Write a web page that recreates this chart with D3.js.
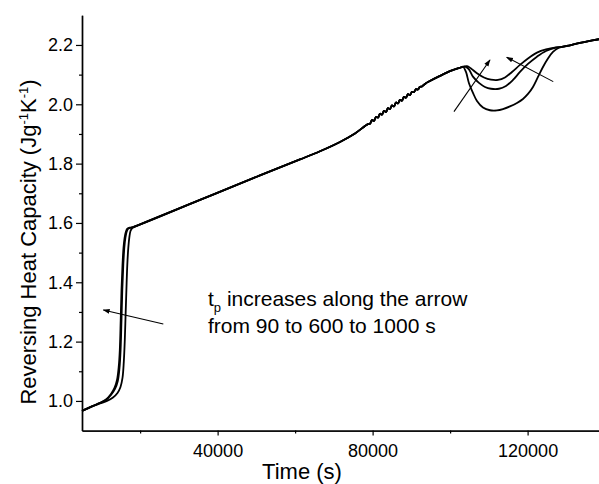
<!DOCTYPE html>
<html>
<head>
<meta charset="utf-8">
<script src="https://cdn.jsdelivr.net/npm/d3@7"></script>
<style>
  body { margin: 0; background: #fff; }
  svg { display: block; font-family: "Liberation Sans", Arial, Helvetica, sans-serif; }
</style>
</head>
<body>
<svg id="chart" width="599" height="484"></svg>
<script>
// ---- Data: reversing heat capacity (J g^-1 K^-1) vs time (s) ----

// Glass-transition step, one run per period tp
const stepTime90   = [5000, 7581, 9645, 11452, 13000, 14161, 14935, 15451, 15787, 16045, 16251, 16458, 16690, 16948, 17232, 17516, 17851, 18290];
const stepCp90     = [0.9663, 0.9815, 0.9916, 1.0000, 1.0118, 1.0270, 1.0472, 1.0775, 1.1315, 1.2056, 1.2899, 1.3742, 1.4585, 1.5158, 1.5528, 1.5731, 1.5812, 1.5852];
const stepTime600  = [5000, 7581, 9645, 11193, 12484, 13516, 14239, 14677, 14961, 15193, 15400, 15658, 15916, 16200, 16509, 16871, 17387, 18161];
const stepCp600    = [0.9663, 0.9815, 0.9933, 1.0034, 1.0202, 1.0405, 1.0674, 1.1112, 1.1719, 1.2731, 1.3742, 1.4585, 1.5158, 1.5495, 1.5697, 1.5798, 1.5835, 1.5859];
const stepTime1000 = [5000, 7581, 9645, 11193, 12484, 13387, 14032, 14471, 14755, 14987, 15193, 15451, 15709, 15993, 16303, 16690, 17258, 18161];
const stepCp1000   = [0.9663, 0.9815, 0.9933, 1.0051, 1.0236, 1.0438, 1.0708, 1.1146, 1.1719, 1.2731, 1.3742, 1.4585, 1.5158, 1.5495, 1.5697, 1.5805, 1.5839, 1.5859];

// Common segment, including the oscillating stretch near 79000-92000 s
const midTime = [35451, 50935, 61257, 66418, 71579, 75450,
  78805, 79321, 79837, 80353, 80869, 81386, 81902, 82418, 82934, 83450,
  83966, 84482, 84998, 85514, 86030, 86547, 87063, 87579, 88095, 88611,
  89127, 89643, 90159, 90675, 91191, 91708, 92224, 92740, 93256, 93772, 94288,
  97385, 100482, 102547];
const midCp = [1.6776, 1.7602, 1.8141, 1.8417, 1.8731, 1.9017,
  1.933, 1.934, 1.947, 1.944, 1.957, 1.955, 1.968, 1.965, 1.978, 1.974,
  1.987, 1.984, 1.996, 1.993, 2.006, 2.003, 2.015, 2.012, 2.025, 2.022,
  2.034, 2.031, 2.042, 2.041, 2.051, 2.050, 2.059, 2.060, 2.066, 2.071, 2.075,
  2.0956, 2.1141, 2.1232];

// Dip near 110000 s, one run per period tp
const dipTime90   = [103321, 104095, 104869, 105901, 106934, 108482, 110288, 112095, 113643, 115449, 117256, 118804, 120095, 121385, 122675, 123965, 125255, 126546, 127832];
const dipCp90     = [2.1266, 2.1090, 2.0710, 2.0383, 2.0113, 1.9894, 1.9799, 1.9793, 1.9837, 1.9928, 2.0046, 2.0180, 2.0349, 2.0585, 2.0922, 2.1259, 2.1546, 2.1765, 2.1890];
const dipTime600  = [103579, 104095, 104869, 105901, 107450, 108998, 110547, 112611, 114417, 116224, 118030, 120095, 122417, 124740, 127320];
const dipCp600    = [2.1273, 2.1259, 2.1175, 2.0932, 2.0720, 2.0585, 2.0524, 2.0524, 2.0619, 2.0821, 2.1090, 2.1360, 2.1606, 2.1798, 2.1910];
const dipTime1000 = [103579, 104353, 105385, 106934, 108740, 110547, 112353, 114159, 115966, 118030, 120095, 122417, 124740, 127320];
const dipCp1000   = [2.1273, 2.1286, 2.1209, 2.1047, 2.0905, 2.0831, 2.0821, 2.0905, 2.1090, 2.1327, 2.1546, 2.1741, 2.1849, 2.1916];

// Common final segment
const tailTime = [128869, 130933, 133514, 136094, 138417, 139707];
const tailCp   = [2.1933, 2.1990, 2.2068, 2.2136, 2.2193, 2.2223];

// Axis ticks
const xMajorTicks = [40000, 80000, 120000];
const xMinorTicks = [20000, 60000, 100000];
const yMajorTicks = [1.0, 1.2, 1.4, 1.6, 1.8, 2.0, 2.2];
const yMinorTicks = [1.1, 1.3, 1.5, 1.7, 1.9, 2.1];

// Arrows: [tail time, tail cp, head time, head cp]
const arrowGlass  = [25980, 1.2596, 10497, 1.3068];
const arrowDipUp  = [100998, 1.9752, 110288, 2.1495];
const arrowDipTop = [126623, 2.0764, 114598, 2.1586];

// ---- Build series ----
const zip = (ts, cs) => ts.map((t, i) => ({ t, c: cs[i] }));
const shared = zip(midTime, midCp);
const tail = zip(tailTime, tailCp);
const series = [
  zip(stepTime90, stepCp90).concat(shared, zip(dipTime90, dipCp90), tail),
  zip(stepTime600, stepCp600).concat(shared, zip(dipTime600, dipCp600), tail),
  zip(stepTime1000, stepCp1000).concat(shared, zip(dipTime1000, dipCp1000), tail)
];

// ---- Scales ----
const x = d3.scaleLinear().domain([5000, 140000]).range([82, 605.1]);
const y = d3.scaleLinear().domain([0.9, 2.3]).range([430.6, 15.3]);

const svg = d3.select("#chart");

svg.append("defs").append("marker")
  .attr("id", "head")
  .attr("viewBox", "0 0 10 10")
  .attr("refX", 9).attr("refY", 5)
  .attr("markerWidth", 7).attr("markerHeight", 7)
  .attr("markerUnits", "userSpaceOnUse")
  .attr("orient", "auto")
  .append("path")
  .attr("d", "M0,1.5 L10,5 L0,8.5 Z")
  .attr("fill", "#000");

// ---- Curves ----
const line = d3.line()
  .x(d => x(d.t))
  .y(d => y(d.c))
  .curve(d3.curveCatmullRom.alpha(0.5));

svg.append("g")
  .selectAll("path")
  .data(series)
  .join("path")
  .attr("d", line)
  .attr("fill", "none")
  .attr("stroke", "#000")
  .attr("stroke-width", 1.8)
  .attr("stroke-linejoin", "round");

// ---- Arrows ----
[arrowGlass, arrowDipUp, arrowDipTop].forEach(a => {
  svg.append("line")
    .attr("x1", x(a[0])).attr("y1", y(a[1]))
    .attr("x2", x(a[2])).attr("y2", y(a[3]))
    .attr("stroke", "#000")
    .attr("stroke-width", 1.1)
    .attr("marker-end", "url(#head)");
});

// ---- Axes ----
const axisStyle = g => {
  g.selectAll(".domain").attr("stroke", "#000").attr("stroke-width", 1.4);
  g.selectAll(".tick line").attr("stroke", "#000").attr("stroke-width", 1.2);
  g.selectAll("text").attr("fill", "#000").attr("font-size", 18)
    .attr("font-family", "'Liberation Sans', Arial, sans-serif");
};

svg.append("g")
  .attr("transform", `translate(0,${y(0.9)})`)
  .call(d3.axisBottom(x).tickValues(xMajorTicks).tickSize(5).tickSizeOuter(0).tickPadding(9).tickFormat(d3.format("d")))
  .call(axisStyle);
svg.append("g")
  .attr("transform", `translate(0,${y(0.9)})`)
  .call(d3.axisBottom(x).tickValues(xMinorTicks).tickSize(3).tickSizeOuter(0).tickFormat(""))
  .call(axisStyle);

svg.append("g")
  .attr("transform", `translate(${x(5000)},0)`)
  .call(d3.axisLeft(y).tickValues(yMajorTicks).tickSize(6).tickSizeOuter(0).tickPadding(3).tickFormat(d3.format(".1f")))
  .call(axisStyle);
svg.append("g")
  .attr("transform", `translate(${x(5000)},0)`)
  .call(d3.axisLeft(y).tickValues(yMinorTicks).tickSize(3).tickSizeOuter(0).tickFormat(""))
  .call(axisStyle);

// ---- Axis titles ----
svg.append("text")
  .attr("x", 302).attr("y", 479)
  .attr("text-anchor", "middle")
  .attr("font-size", 22)
  .text("Time (s)");

const yTitle = svg.append("text")
  .attr("transform", "translate(36,242) rotate(-90)")
  .attr("text-anchor", "middle")
  .attr("font-size", 22);
yTitle.append("tspan").text("Reversing Heat Capacity (Jg");
yTitle.append("tspan").attr("font-size", 13).attr("dy", -8).text("-1");
yTitle.append("tspan").attr("dy", 8).text("K");
yTitle.append("tspan").attr("font-size", 13).attr("dy", -8).text("-1");
yTitle.append("tspan").attr("dy", 8).text(")");

// ---- Annotation ----
const note = svg.append("text").attr("font-size", 21).attr("x", 208).attr("y", 306);
note.append("tspan").text("t");
note.append("tspan").attr("font-size", 13).attr("dy", 6).text("p");
note.append("tspan").attr("dy", -6).text(" increases along the arrow");
svg.append("text").attr("font-size", 21).attr("x", 208).attr("y", 333)
  .text("from 90 to 600 to 1000 s");
</script>
</body>
</html>
